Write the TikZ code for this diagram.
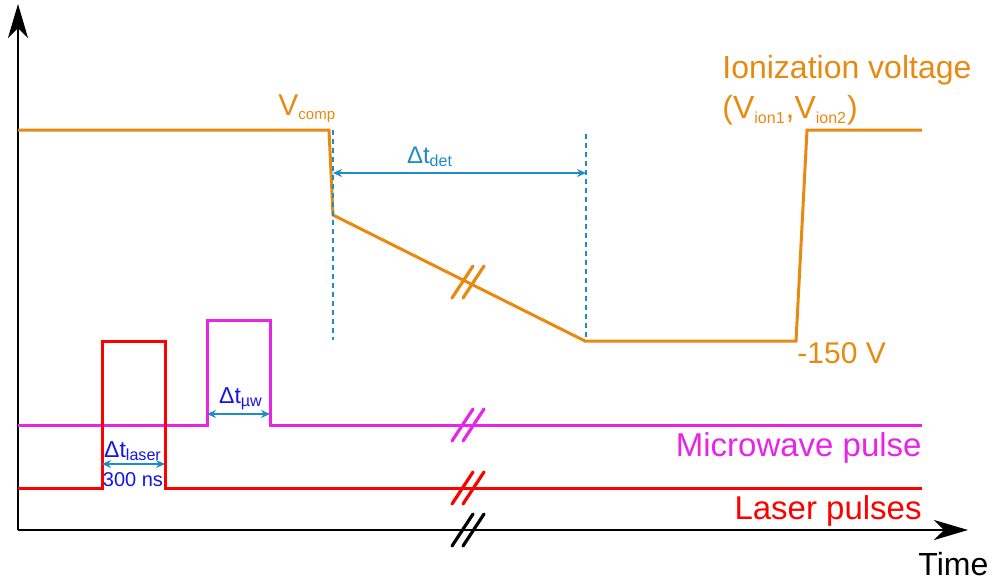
\documentclass[tikz,border=0pt]{standalone}
\usepackage{amsmath}
\usepackage{fontspec}
\setmainfont{Liberation Sans}
\usetikzlibrary{arrows.meta}
\definecolor{ionorange}{RGB}{232,138,18}
\definecolor{detblue}{RGB}{30,140,200}
\definecolor{mwmagenta}{RGB}{232,36,232}
\definecolor{labelblue}{RGB}{20,20,235}
\newcommand{\vsub}[1]{$_{\scriptscriptstyle\text{#1}}$}

\begin{document}
\begin{tikzpicture}[
    x=0.5pt, y=-0.5pt,
    axis/.style={line width=1.2pt, -{Stealth[length=17pt, width=10pt, inset=5pt]}},
    signal/.style={line width=1.5pt, line join=miter},
    brk/.style={line width=1.6pt, line cap=round},
    guide/.style={detblue, line width=1.3pt, dash pattern=on 2.5pt off 2pt},
    span/.style={detblue, line width=1pt, {Stealth[length=4.5pt, width=4pt]}-{Stealth[length=4.5pt, width=4pt]}},
    biglabel/.style={font=\fontsize{16.5}{19}\selectfont, inner sep=0pt},
    dtlabel/.style={font=\fontsize{11.5}{14}\selectfont, labelblue, inner sep=0pt}
  ]
  \useasboundingbox (0,0) rectangle (995,585);

  % Axes
  \coordinate (origin) at (18,530);
  \coordinate (ytip) at (18,4);
  \coordinate (xtip) at (968,530);
  \draw[axis] (origin) -- (ytip);
  \draw[axis] (origin) -- (xtip);
  \node[biglabel, anchor=base west, font=\fontsize{16}{19}\selectfont]
    (time) at (918,575) {Time};

  % Ionization voltage
  \coordinate (vc) at (329,130);
  \coordinate (vd) at (333,215);
  \coordinate (vlow) at (585,341);
  \coordinate (vup) at (796,341);
  \draw[signal, ionorange] (18,130) -- (vc) -- (vd) -- (vlow) -- (vup)
    -- (807,130) -- (922,130);
  \node[biglabel, ionorange, anchor=base west, font=\fontsize{15}{18}\selectfont]
    (vcomp) at (278,115) {V\vsub{comp}};
  \node[biglabel, ionorange, anchor=base west, font=\fontsize{16}{19}\selectfont]
    (ion) at (722,78) {Ionization voltage};
  \node[biglabel, ionorange, anchor=base west, font=\fontsize{16}{19}\selectfont]
    (vion) at (722,118) {(V\vsub{ion1},V\vsub{ion2})};
  \node[biglabel, ionorange, anchor=base west, font=\fontsize{15}{18}\selectfont]
    (vneg) at (797,363) {-150 V};

  % Detection window
  \coordinate (d1top) at (333,130);
  \coordinate (d1bot) at (333,340);
  \coordinate (d2top) at (586,134);
  \coordinate (d2bot) at (586,340);
  \draw[guide] (d1top) -- (d1bot);
  \draw[guide] (d2top) -- (d2bot);
  \coordinate (dta) at (333,173);
  \coordinate (dtb) at (586,173);
  \draw[span] (dta) -- (dtb);
  \node[dtlabel, detblue, anchor=base, font=\fontsize{12}{14}\selectfont]
    (dtdet) at (430,163) {Δt$_{\text{det}}$};

  % Microwave pulse
  \draw[signal, mwmagenta] (18,425) -- (207,425) -- (207,320) -- (270,320)
    -- (270,425) -- (922,425);
  \node[biglabel, mwmagenta, anchor=base east] (mw) at (922,456)
    {Microwave pulse};
  \coordinate (mwa) at (207,414);
  \coordinate (mwb) at (270,414);
  \draw[span] (mwa) -- (mwb);
  \node[dtlabel, anchor=base] (dtmw) at (241,403) {Δt$_{\text{µw}}$};

  % Laser pulse
  \draw[signal, red] (18,488) -- (102,488) -- (102,341) -- (165,341)
    -- (165,488) -- (922,488);
  \node[biglabel, red, anchor=base east] (laser) at (922,519)
    {Laser pulses};
  \coordinate (la) at (102,464);
  \coordinate (lb) at (165,464);
  \draw[span] (la) -- (lb);
  \node[dtlabel, anchor=base] (dtlaser) at (133,457) {Δt$_{\text{laser}}$};
  \node[dtlabel, anchor=base, font=\fontsize{10}{12}\selectfont]
    (ns) at (133,486) {300 ns};

  % Axis breaks
  \foreach \yy/\cc in {282/ionorange, 425/mwmagenta, 488/red, 530/black} {
    \draw[brk, \cc] (452,\yy+16) -- (473,\yy-16);
    \draw[brk, \cc] (463,\yy+16) -- (484,\yy-16);
  }
\end{tikzpicture}
\end{document}
